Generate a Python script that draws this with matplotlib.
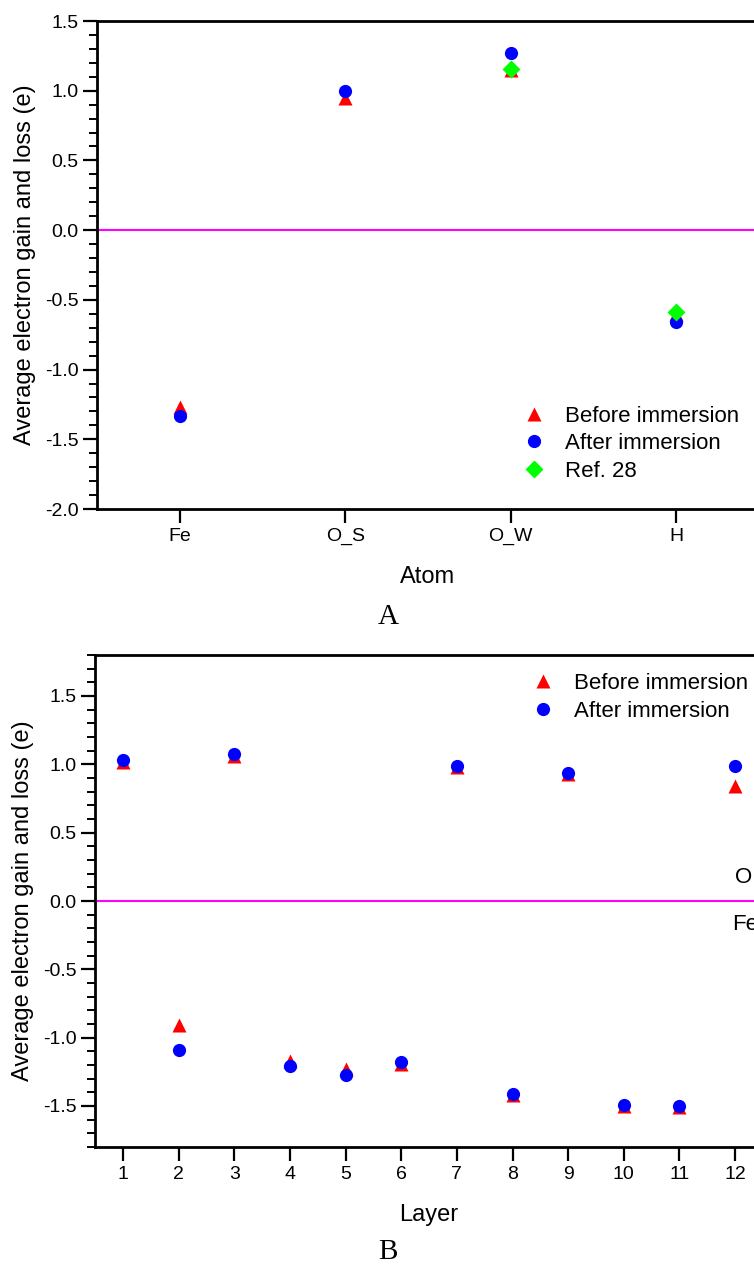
import matplotlib
matplotlib.use("Agg")
import matplotlib.pyplot as plt
from matplotlib.ticker import MultipleLocator, FixedLocator, FormatStrFormatter

plt.rcParams['font.family'] = ['Liberation Sans', 'DejaVu Sans']

# ---- Panel A data ----
atoms = ["Fe", "O_S", "O_W", "H"]
before_A = [-1.27, 0.95, 1.15, -0.60]
after_A = [-1.33, 1.00, 1.27, -0.66]
ref_atoms = ["O_W", "H"]
ref28 = [1.155, -0.59]

# ---- Panel B data ----
layers = [1, 2, 3, 4, 5, 6, 7, 8, 9, 10, 11, 12]
before_B = [1.02, -0.91, 1.06, -1.17, -1.23, -1.19, 0.98, -1.42, 0.93, -1.50, -1.51, 0.84]
after_B = [1.035, -1.09, 1.077, -1.21, -1.27, -1.18, 0.99, -1.41, 0.94, -1.49, -1.50, 0.986]

RED = "#ff0000"
BLUE = "#0000ff"
GREEN = "#00ff00"
MAG = "#ff00ff"

fig = plt.figure(figsize=(7.54, 12.65), dpi=100)

axA = fig.add_axes([97/754, 1-509/1265, (759-97)/754, 488/1265])
axB = fig.add_axes([95/754, 1-1147/1265, (763-95)/754, 492/1265])

TICK_FS = 14
LAB_FS = 17
LEG_FS = 16


def style(ax):
    for s in ["left", "bottom", "top", "right"]:
        ax.spines[s].set_linewidth(2)
    ax.tick_params(axis="both", which="major", direction="out", length=10, width=1.6,
                   labelsize=TICK_FS, colors="black")
    ax.tick_params(axis="y", which="minor", direction="out", length=6, width=1.4)
    ax.tick_params(axis="x", which="minor", bottom=False)


# Panel A
xA = list(range(1, len(atoms) + 1))
pos = {a: i + 1 for i, a in enumerate(atoms)}
axA.axhline(0, color=MAG, lw=1.5, zorder=1)
axA.plot(xA, before_A, linestyle="none", marker="^", ms=10, color=RED, mec="none",
         label="Before immersion", zorder=3)
axA.plot(xA, after_A, linestyle="none", marker="o", ms=9.5, color=BLUE, mec="none",
         label="After immersion", zorder=4)
axA.plot([pos[a] for a in ref_atoms], ref28, linestyle="none", marker="D", ms=9,
         color=GREEN, mec="none", label="Ref. 28", zorder=5)
axA.set_xlim(0.5, 4.5)
axA.set_ylim(-2.0, 1.5)
axA.xaxis.set_major_locator(FixedLocator(xA))
axA.set_xticklabels(atoms)
axA.yaxis.set_major_locator(MultipleLocator(0.5))
axA.yaxis.set_minor_locator(MultipleLocator(0.1))
axA.yaxis.set_major_formatter(FormatStrFormatter("%.1f"))
style(axA)
axA.set_xlabel("Atom", fontsize=LAB_FS, labelpad=15)
axA.set_ylabel("Average electron gain and loss (e)", fontsize=LAB_FS, labelpad=6)
axA.legend(loc="upper left", bbox_to_anchor=(0.643, 0.212), frameon=False,
           fontsize=LEG_FS, handlelength=1.0, handletextpad=0.9, labelspacing=0.3,
           borderpad=0, borderaxespad=0, numpoints=1)

# Panel B
axB.axhline(0, color=MAG, lw=1.5, zorder=1)
axB.plot(layers, before_B, linestyle="none", marker="^", ms=10, color=RED, mec="none",
         label="Before immersion", zorder=3)
axB.plot(layers, after_B, linestyle="none", marker="o", ms=9.5, color=BLUE, mec="none",
         label="After immersion", zorder=4)
axB.set_xlim(0.5, 12.5)
axB.set_ylim(-1.8, 1.8)
axB.xaxis.set_major_locator(FixedLocator(layers))
axB.yaxis.set_major_locator(MultipleLocator(0.5))
axB.yaxis.set_minor_locator(MultipleLocator(0.1))
axB.yaxis.set_major_formatter(FormatStrFormatter("%.1f"))
style(axB)
axB.set_xlabel("Layer", fontsize=LAB_FS, labelpad=15)
axB.set_ylabel("Average electron gain and loss (e)", fontsize=LAB_FS, labelpad=6)
axB.legend(loc="upper left", bbox_to_anchor=(0.654, 0.963), frameon=False,
           fontsize=LEG_FS, handlelength=1.0, handletextpad=0.9, labelspacing=0.3,
           borderpad=0, borderaxespad=0, numpoints=1)
axB.text(12.0, 0.17, "O", fontsize=LEG_FS, ha="left", va="center")
axB.text(11.95, -0.17, "Fe", fontsize=LEG_FS, ha="left", va="center")

fig.text(388/754, 1-617/1265, "A", fontsize=21, family="Liberation Serif",
         ha="center", va="center")
fig.text(388/754, 1-1252/1265, "B", fontsize=21, family="Liberation Serif",
         ha="center", va="center")

fig.savefig("out.png", dpi=100)
